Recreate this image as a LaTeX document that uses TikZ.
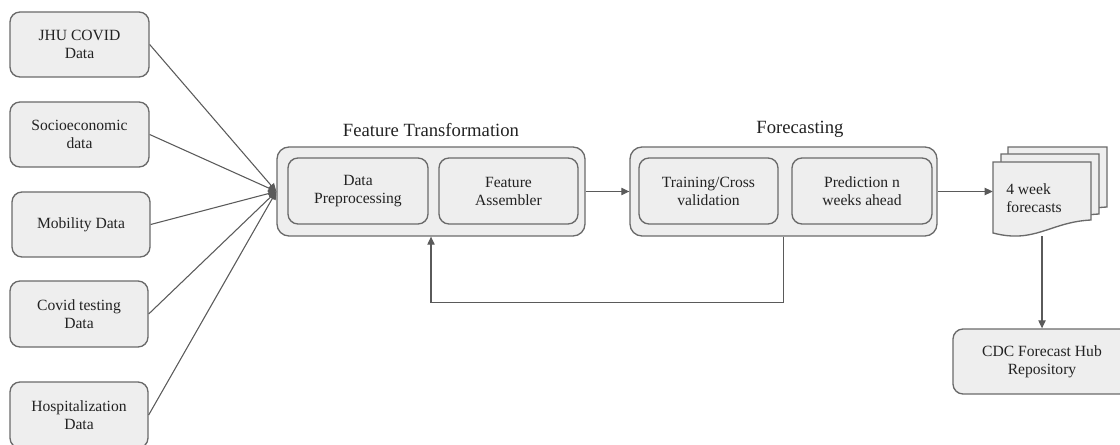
\documentclass[tikz,border=0pt]{standalone}
\usepackage{fontspec}
\setmainfont{Liberation Serif}
\usetikzlibrary{arrows.meta,calc}
\definecolor{boxfill}{HTML}{EEEEEE}
\definecolor{boxline}{HTML}{6A6A6A}
\definecolor{conline}{HTML}{5A5A5A}
\definecolor{txt}{HTML}{222222}
\tikzset{
  span/.style n args={4}{minimum width={(#3-#1)*0.75pt}, minimum height={(#4-#2)*0.75pt}, at={({(#1+#3)/2},{(#2+#4)/2})}},
  srcbox/.style={draw=boxline, fill=boxfill, line width=1pt, rounded corners=7.5pt, inner sep=0pt, align=center, text=txt, font=\fontsize{11.7}{13.5}\selectfont},
  outerbox/.style={draw=boxline, fill=boxfill, line width=1pt, rounded corners=9pt, inner sep=0pt},
  innerbox/.style={draw=boxline, fill=boxfill, line width=1pt, rounded corners=7.5pt, inner sep=0pt, align=center, text=txt, font=\fontsize{11.7}{13.5}\selectfont},
  titletext/.style={font=\fontsize{14}{16}\selectfont, inner sep=0pt, text=txt},
  arr/.style={draw=conline, line width=0.8pt, -{Triangle[length=6pt,width=5.5pt]}},
  docshape/.style={draw=boxline, fill=boxfill, line width=1pt},
}
\begin{document}
\begin{tikzpicture}[x=0.75pt,y=-0.75pt]
\useasboundingbox (0,0) rectangle (1120,445);
% sources
\node[srcbox, span={10}{12}{149}{77}] (jhu) {JHU COVID\\Data};
\node[srcbox, span={10}{102}{149}{167}] (soc) {Socioeconomic\\data};
\node[srcbox, span={12}{192}{150}{257}] (mob) {Mobility Data};
\node[srcbox, span={10}{281}{148}{347}] (cov) {Covid testing\\Data};
\node[srcbox, span={10}{382}{148}{448}] (hos) {Hospitalization\\Data};
% feature transformation
\node[outerbox, span={277}{147}{585}{236}] (ft) {};
\node[innerbox, span={288}{158}{428}{224}] (dp) {Data\\Preprocessing};
\node[innerbox, span={439}{158}{578}{224}] (fa) {Feature\\Assembler};
\node[titletext] (ftt) at (431,130) {Feature Transformation};
% forecasting
\node[outerbox, span={630}{147}{937}{236}] (fc) {};
\node[innerbox, span={639}{158}{778}{224}] (tr) {Training/Cross\\validation};
\node[innerbox, span={792}{158}{932}{224}] (pr) {Prediction n\\weeks ahead};
\node[titletext] (fct) at (800,129) {Forecasting};
% document stack
\draw[docshape] (1008,147) -- (1107,147) -- (1107,207) .. controls (1070,209) and (1050,222) .. (1008,218) -- cycle;
\draw[docshape] (1001,154) -- (1099,154) -- (1099,214) .. controls (1062,216) and (1042,229) .. (1001,225) -- cycle;
\draw[docshape] (993,162) -- (1091,162) -- (1091,220) .. controls (1050,222) and (1035,244) .. (993,233) -- cycle;
\node[inner sep=0pt, span={993}{162}{1091}{236}] (doc) {};
\node[anchor=west, align=left, inner sep=0pt, text=txt, font=\fontsize{11.7}{13.5}\selectfont] (doct) at (1006,198) {4 week\\forecasts};
% CDC
\node[srcbox, span={953}{329}{1131}{394}] (cdc) {CDC Forecast Hub\\Repository};
% connectors
\foreach \s in {jhu,soc,mob,cov,hos} { \draw[arr] (\s.east) -- (ft.west); }
\draw[arr] (ft.east) -- (fc.west);
\draw[arr] (fc.east) -- (doc.west |- fc.east);
\draw[arr] (fc.south) -- ++(0,66) -| (ft.south);
\draw[arr] (cdc.north |- doc.south) -- (cdc.north);
\end{tikzpicture}
\end{document}
